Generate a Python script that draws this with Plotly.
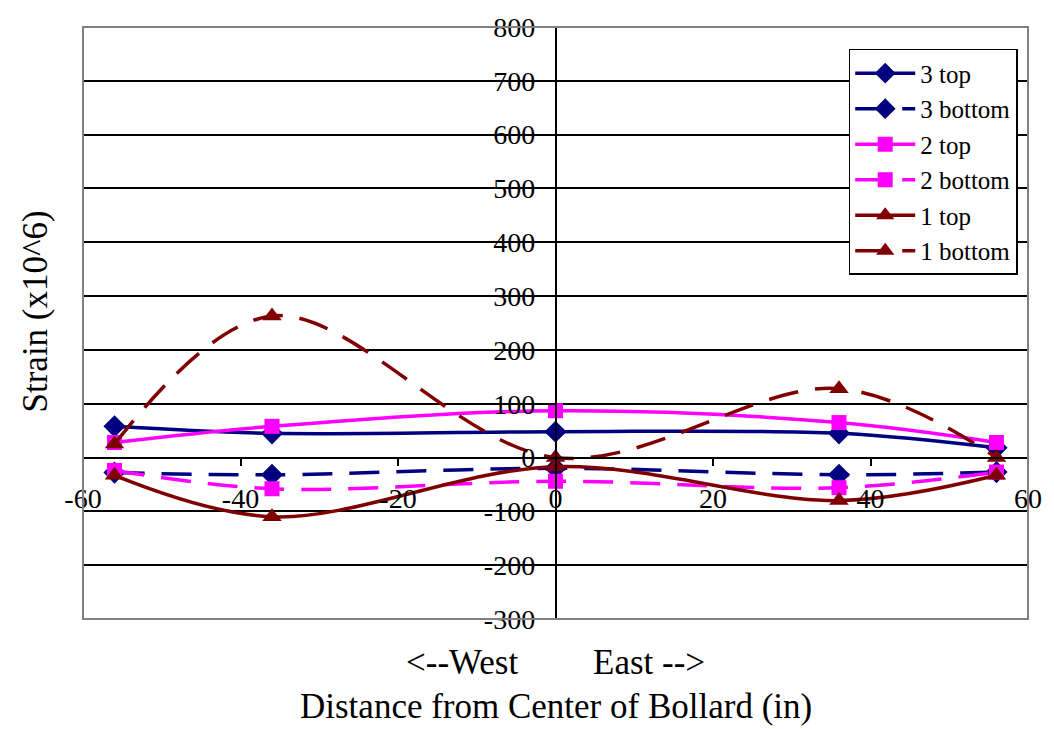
import plotly.graph_objects as go

# Gauge positions along the bollard cross-section (in)
distance = [-56, -36, 0, 36, 56]

# Measured strains (x10^6) per gauge level
strain_3_top = [58, 45, 48, 45, 18]
strain_3_bottom = [-28, -32, -20, -32, -27]
strain_2_top = [28, 58, 87, 65, 28]
strain_2_bottom = [-24, -58, -44, -56, -27]
strain_1_top = [-33, -110, -17, -80, -33]
strain_1_bottom = [25, 263, 0, 128, 0]

series_names = ["3 top", "3 bottom", "2 top", "2 bottom", "1 top", "1 bottom"]
series_values = [strain_3_top, strain_3_bottom, strain_2_top,
                 strain_2_bottom, strain_1_top, strain_1_bottom]

y_ticks = list(range(-300, 801, 100))
x_ticks = list(range(-60, 61, 20))

NAVY = "#000080"
MAGENTA = "#FF00FF"
MAROON = "#800000"
DASH = "30px,17px"
styles = [
    (NAVY, "solid", "diamond", 17),
    (NAVY, DASH, "diamond", 17),
    (MAGENTA, "solid", "square", 15),
    (MAGENTA, DASH, "square", 15),
    (MAROON, "solid", "triangle-up", 17),
    (MAROON, DASH, "triangle-up", 17),
]

SERIF = "Liberation Serif, Times New Roman, serif"

fig = go.Figure()
for name, vals, (color, dash, sym, size) in zip(series_names, series_values, styles):
    fig.add_trace(go.Scatter(
        x=distance, y=vals, name=name, mode="lines+markers",
        line=dict(color=color, width=3.5, dash=dash, shape="spline", smoothing=1.0),
        marker=dict(color=color, symbol=sym, size=size, line=dict(width=0)),
    ))

x_min, x_max = -60, 60
y_min, y_max = -300, 800

# plotting area in pixels: left 83, right 1037, top 25, bottom 619
PLOT_L, PLOT_W, PLOT_B, PLOT_H = 83, 954, 619, 594


def px_x(px):
    return (px - PLOT_L) / PLOT_W


def px_y(py):
    return (PLOT_B - py) / PLOT_H


fig.update_layout(
    width=1054, height=729,
    margin=dict(l=83, r=17, t=25, b=110),
    paper_bgcolor="white", plot_bgcolor="white",
    font=dict(family=SERIF, color="black", size=28),
    showlegend=True,
    legend=dict(
        x=px_x(856), y=px_y(47), xanchor="left", yanchor="top",
        bgcolor="white", bordercolor="black", borderwidth=1.5,
        font=dict(family=SERIF, size=25, color="black"),
        itemwidth=60, tracegroupgap=0,
    ),
    xaxis=dict(
        range=[x_min, x_max], tickvals=x_ticks, ticktext=[str(v) for v in x_ticks],
        anchor="free", position=(0 - y_min) / (y_max - y_min),
        showline=True, linecolor="black", linewidth=1.5,
        ticks="outside", ticklen=8, tickwidth=1.5, tickcolor="black",
        ticklabelstandoff=8,
        showgrid=False, zeroline=False,
        tickfont=dict(family=SERIF, size=28, color="black"),
    ),
    yaxis=dict(
        range=[y_min, y_max], tickvals=y_ticks, ticktext=[str(v) for v in y_ticks],
        anchor="free", position=(0 - x_min) / (x_max - x_min),
        showline=True, linecolor="black", linewidth=1.5,
        ticks="outside", ticklen=8, tickwidth=1.5, tickcolor="black",
        ticklabelstandoff=6,
        showgrid=True, gridcolor="black", gridwidth=1.5,
        zeroline=False,
        tickfont=dict(family=SERIF, size=28, color="black"),
    ),
)

# Gray frame around the plotting area
fig.add_shape(type="rect", xref="paper", yref="paper", x0=0, y0=0, x1=1, y1=1,
              line=dict(color="#808080", width=2), layer="above")

# Axis titles
title_font = dict(family=SERIF, size=35, color="black")
fig.add_annotation(text="Strain (x10^6)", xref="paper", yref="paper",
                   x=px_x(35), y=px_y(310), xanchor="center", yanchor="middle",
                   textangle=-90, showarrow=False, font=title_font)
fig.add_annotation(text="&lt;--West", xref="paper", yref="paper",
                   x=px_x(466), y=px_y(663), xanchor="center", yanchor="middle",
                   showarrow=False, font=title_font)
fig.add_annotation(text="East --&gt;", xref="paper", yref="paper",
                   x=px_x(654), y=px_y(663), xanchor="center", yanchor="middle",
                   showarrow=False, font=title_font)
fig.add_annotation(text="Distance from Center of Bollard (in)", xref="paper", yref="paper",
                   x=px_x(560), y=px_y(707), xanchor="center", yanchor="middle",
                   showarrow=False, font=title_font)

fig.write_html("out.html")
